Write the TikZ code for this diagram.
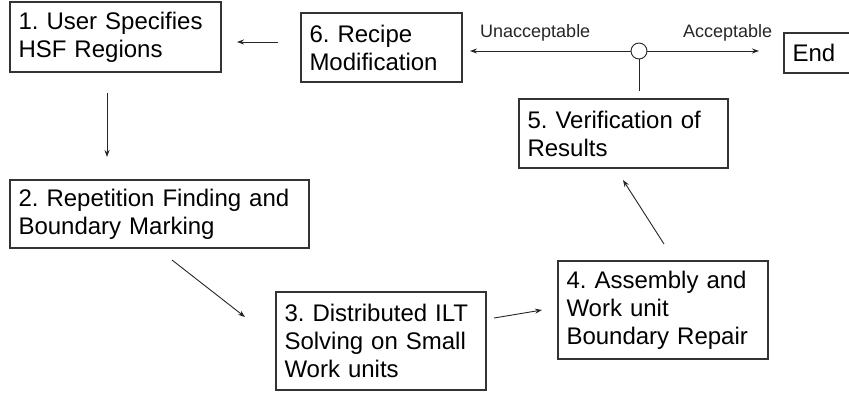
\documentclass[tikz,border=0pt]{standalone}
\usepackage{fontspec}
\setmainfont{Liberation Sans}
\usetikzlibrary{arrows.meta}
\frenchspacing
\begin{document}
\begin{tikzpicture}[x=1pt,y=-1pt,
  box/.style={draw=black!80, line width=1.2pt, fill=white, inner xsep=8.5pt, inner ysep=0pt,
    align=left, font=\fontsize{24}{28}\selectfont, anchor=center},
  arr/.style={draw=black!85, line width=0.9pt, -{Stealth[length=7pt,width=5pt]}},
  plain/.style={draw=black!85, line width=0.9pt},
  lbl/.style={font=\fontsize{18}{20}\selectfont, text=black!85, inner sep=0pt, anchor=base west}]
\clip (0,0) rectangle (849,393);
\fill[white] (0,0) rectangle (849,393);
% boxes
\node[box, text width=194pt, minimum height=70pt] (b1) at (115.5,37) {1. User Specifies\\HSF Regions};
\node[box, text width=282pt, minimum height=68pt] (b2) at (159.5,214) {2. Repetition Finding and\\Boundary Marking};
\node[box, text width=193pt, minimum height=98pt] (b3) at (381,341) {3. Distributed ILT\\Solving on Small\\Work units};
\node[box, text width=193pt, minimum height=98pt] (b4) at (663,310) {4. Assembly and\\Work unit\\Boundary Repair};
\node[box, text width=192pt, minimum height=69pt] (b5) at (623.5,133.5) {5. Verification of\\Results};
\node[box, text width=144pt, minimum height=69pt] (b6) at (381.5,47.5) {6. Recipe\\Modification};
\node[box, text width=63pt, minimum height=40pt] (bend) at (824,53) {End};
% decision circle
\node[draw=black!85, line width=0.9pt, fill=white, circle, minimum size=16pt, inner sep=0pt] (dc) at (639,51) {};
% labels
\node[lbl] (lu) at (480,38) {Unacceptable};
\node[lbl] (la) at (683,38) {Acceptable};
% connector end points
\coordinate (p61s) at (278,42);
\coordinate (p61e) at (237,42);
\coordinate (p12s) at (107,93);
\coordinate (p12e) at (107,157);
\coordinate (p23s) at (172,260);
\coordinate (p23e) at (245,317);
\coordinate (p34s) at (494,318);
\coordinate (p34e) at (542,310);
\coordinate (p45s) at (664,244);
\coordinate (p45e) at (623,180);
\coordinate (pun) at (470,51);
\coordinate (pac) at (759,51);
\coordinate (p5c) at (639,91);
% connectors
\draw[arr] (p61s) -- (p61e);
\draw[arr] (p12s) -- (p12e);
\draw[arr] (p23s) -- (p23e);
\draw[arr] (p34s) -- (p34e);
\draw[arr] (p45s) -- (p45e);
\draw[arr] (dc.west) -- (pun);
\draw[arr] (dc.east) -- (pac);
\draw[plain] (dc.south) -- (p5c);
\end{tikzpicture}
\end{document}
